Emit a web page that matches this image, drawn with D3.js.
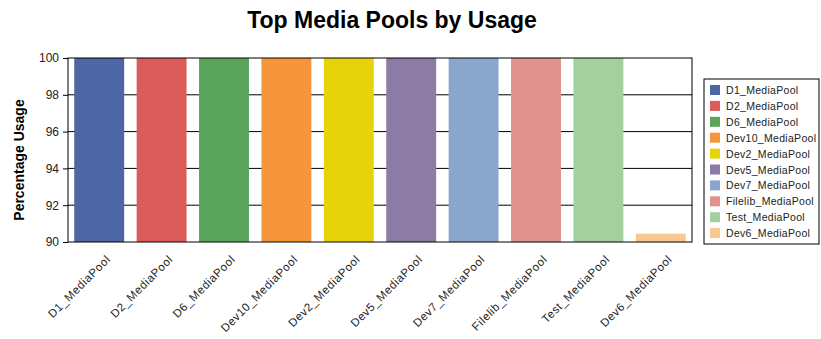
<!DOCTYPE html>
<html lang="en">
<head>
  <meta charset="UTF-8">
  <title>Top Media Pools by Usage</title>
  <style>
    body { margin: 0; background: #fff; }
    svg { display: block; font-family: Arial, "Liberation Sans", sans-serif; }
    .tick text { font-size: 12px; fill: #222; }
  </style>
</head>
<body>
  <script src="https://d3js.org/d3.v7.min.js"></script>
  <script>
    const pools = ["D1_MediaPool", "D2_MediaPool", "D6_MediaPool", "Dev10_MediaPool", "Dev2_MediaPool",
                   "Dev5_MediaPool", "Dev7_MediaPool", "Filelib_MediaPool", "Test_MediaPool", "Dev6_MediaPool"];
    const usage = [100, 100, 100, 100, 100, 100, 100, 100, 100, 90.45];
    const colors = ["#4c67a3", "#dc5b5b", "#5aa45c", "#f6963c", "#e6d30a",
                    "#8c7ba5", "#8aa6cd", "#e0928e", "#a4d0a0", "#f8c88f"];
    const yTicks = [90, 92, 94, 96, 98, 100];

    const width = 821, height = 339;
    const margin = {top: 58, left: 68, right: 129, bottom: 97};
    const plotW = width - margin.left - margin.right;
    const plotH = height - margin.top - margin.bottom;

    const svg = d3.select("body").append("svg").attr("width", width).attr("height", height);

    svg.append("text")
      .attr("x", 392).attr("y", 28)
      .attr("text-anchor", "middle")
      .attr("font-size", "23px").attr("font-weight", "bold")
      .text("Top Media Pools by Usage");

    const x = d3.scaleBand().domain(pools).range([0, plotW]).paddingInner(0.2).paddingOuter(0.1);
    const y = d3.scaleLinear().domain([90, 100]).range([plotH, 0]);
    const color = d3.scaleOrdinal().domain(pools).range(colors);

    const g = svg.append("g").attr("transform", `translate(${margin.left},${margin.top})`);

    // grid lines
    g.append("g").selectAll("line").data(yTicks.slice(1, -1)).enter().append("line")
      .attr("x1", 0).attr("x2", plotW)
      .attr("y1", d => y(d)).attr("y2", d => y(d))
      .attr("stroke", "#000").attr("stroke-width", 1);

    g.append("g").selectAll("rect").data(pools).enter().append("rect")
      .attr("x", d => x(d))
      .attr("width", x.bandwidth())
      .attr("y", (d, i) => y(usage[i]))
      .attr("height", (d, i) => plotH - y(usage[i]))
      .attr("fill", d => color(d));

    // frame
    g.append("rect").attr("width", plotW).attr("height", plotH)
      .attr("fill", "none").attr("stroke", "#000").attr("stroke-width", 1);

    const yAxis = g.append("g").call(d3.axisLeft(y).tickValues(yTicks).tickSize(5).tickPadding(4));
    yAxis.select(".domain").remove();

    g.append("g").attr("transform", `translate(0,${plotH})`)
      .selectAll("text").data(pools).enter().append("text")
      .attr("transform", d => `translate(${x(d) + x.bandwidth() / 2 + 12},${18}) rotate(-45)`)
      .attr("text-anchor", "end")
      .attr("font-size", "11.5px").attr("letter-spacing", "0.6px").attr("fill", "#222")
      .text(d => d);

    svg.append("text")
      .attr("transform", `translate(24,160) rotate(-90)`)
      .attr("text-anchor", "middle")
      .attr("font-size", "14px").attr("font-weight", "bold")
      .text("Percentage Usage");

    // legend
    const lg = svg.append("g").attr("transform", "translate(704,79)");
    lg.append("rect").attr("width", 115).attr("height", 165)
      .attr("fill", "#fff").attr("stroke", "#000");
    const items = lg.selectAll("g.item").data(pools).enter().append("g")
      .attr("transform", (d, i) => `translate(6,${11 + i * 15.9})`);
    items.append("rect").attr("x", 0).attr("y", -5).attr("width", 10).attr("height", 10)
      .attr("fill", d => color(d));
    items.append("text").attr("x", 16).attr("y", 4)
      .attr("font-size", "10.5px").attr("letter-spacing", "0.3px").attr("fill", "#222")
      .text(d => d);
  </script>
</body>
</html>
